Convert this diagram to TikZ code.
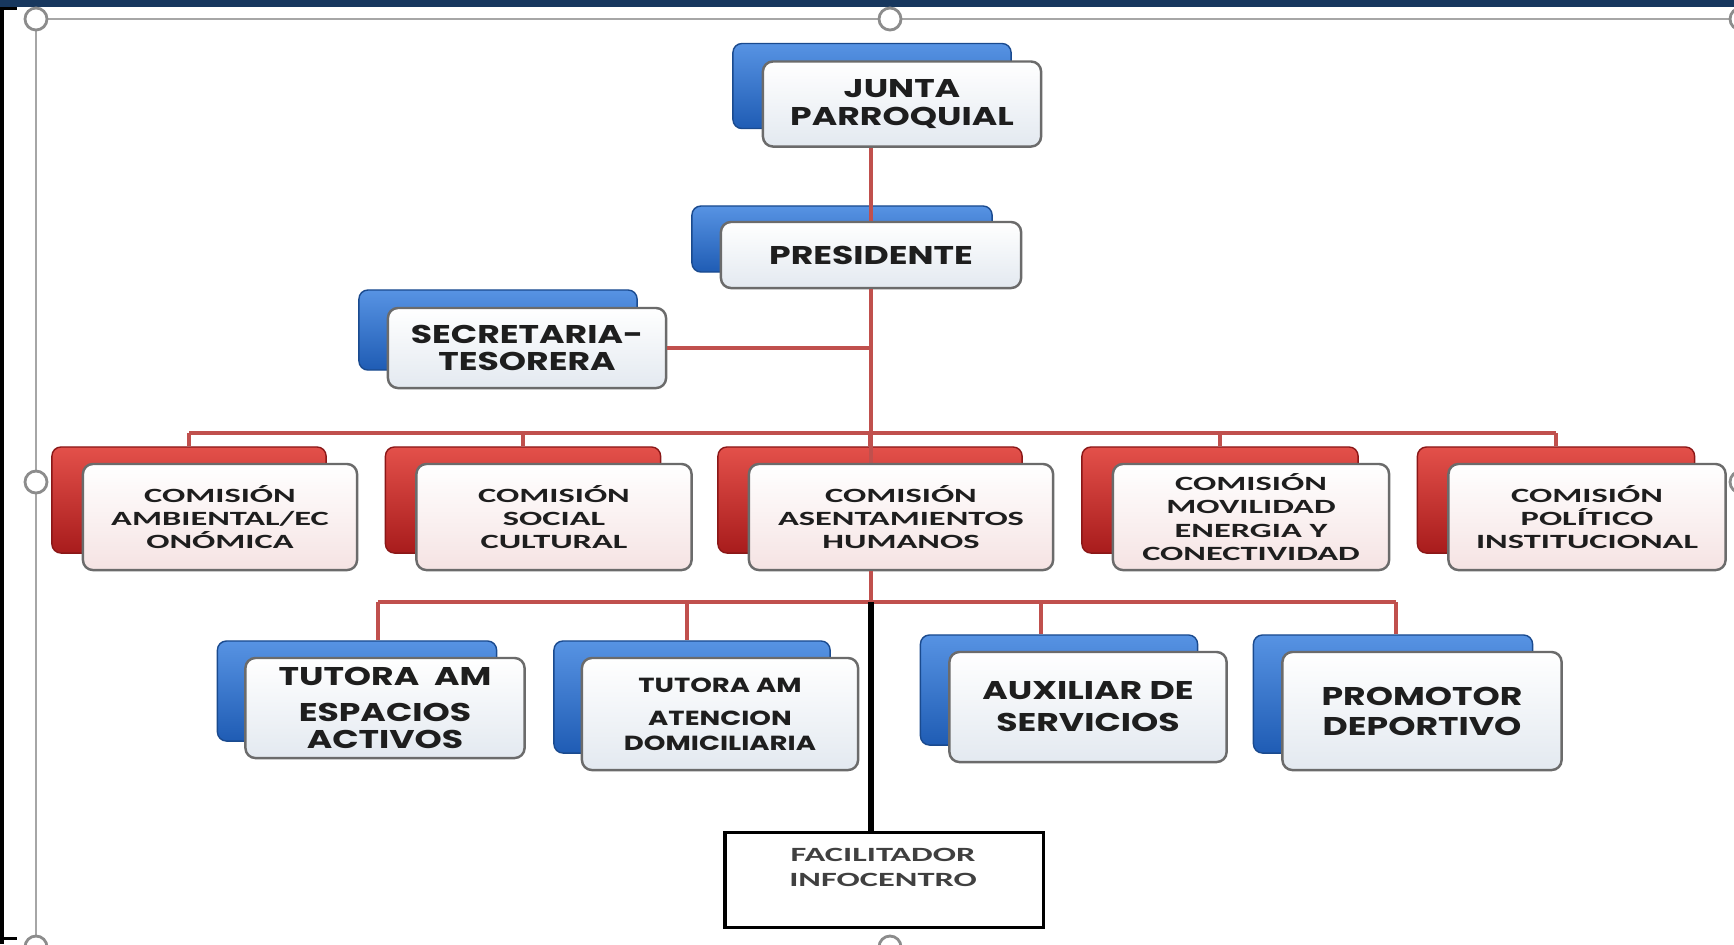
\documentclass[tikz,border=0pt]{standalone}
\usepackage{fontspec}
\usepackage{tikz}

\newfontfamily\geofont{Poppins}[FakeStretch=1.35]
\newfontfamily\calfont{Carlito}[FakeStretch=1.7]

\definecolor{barnavy}{HTML}{17375E}
\definecolor{framegray}{HTML}{A6A6A6}
\definecolor{handlegray}{HTML}{8C8C8C}
\definecolor{bluetop}{HTML}{5793E3}
\definecolor{bluebot}{HTML}{1F5CB4}
\definecolor{blueedge}{HTML}{1A4A8E}
\definecolor{redtop}{HTML}{E3504A}
\definecolor{redbot}{HTML}{A81C1C}
\definecolor{rededge}{HTML}{8A1717}
\definecolor{frontblue}{HTML}{E3E9F0}
\definecolor{frontred}{HTML}{F5E3E3}
\definecolor{boxborder}{HTML}{6B6B6B}
\definecolor{linered}{HTML}{C0504D}
\definecolor{textdark}{HTML}{1E1E1E}
\definecolor{textgray}{HTML}{404040}

\begin{document}
\begin{tikzpicture}[x=0.01cm,y=-0.01cm,
  handle/.style={circle,draw=handlegray,line width=0.8pt,fill=white,minimum size=0.22cm,inner sep=0pt},
  backblue/.style={rounded corners=0.09cm,top color=bluetop,bottom color=bluebot,draw=blueedge,line width=0.4pt,inner sep=0pt},
  backred/.style={rounded corners=0.09cm,top color=redtop,bottom color=redbot,draw=rededge,line width=0.4pt,inner sep=0pt},
  frontbox/.style={rounded corners=0.1cm,draw=boxborder,line width=0.7pt,inner sep=0pt,align=center,text=textdark},
  frontb/.style={frontbox,top color=white,bottom color=frontblue},
  frontr/.style={frontbox,top color=white,bottom color=frontred},
  geo/.style={font=\geofont\bfseries\fontsize{7.3}{7.7}\selectfont},
  geosmall/.style={font=\geofont\bfseries\fontsize{5.8}{7.1}\selectfont},
  cal/.style={font=\calfont\bfseries\fontsize{5.75}{6.6}\selectfont},
  redline/.style={draw=linered,line width=1.2pt},
  blackline/.style={draw=black,line width=1.6pt}]

\useasboundingbox (0,0) rectangle (1734,944);
\clip (0,0) rectangle (1734,944);

%% window frame
\fill[barnavy] (0,0) rectangle (1734,7);
\fill[black] (0,7) rectangle (4,944);
\fill[black] (0,7) rectangle (17,10);
\fill[black] (0,937) rectangle (17,940);

\draw[framegray,line width=0.7pt] (36,19) rectangle (1741,947);

%% connectors
\coordinate (bus1) at (871,433);
\coordinate (bus2) at (871,602);

\coordinate (dl1) at (378,602);
\coordinate (dl2) at (687,602);
\coordinate (dl3) at (1041,602);
\coordinate (dl4) at (1396,602);

%% level 1
\node[backblue,minimum width=2.78cm,minimum height=0.85cm] (juntab) at (872,86) {};
\node[frontb,geo,minimum width=2.78cm,minimum height=0.85cm] (junta) at (902,104) {JUNTA\\PARROQUIAL};

%% level 2
\node[backblue,minimum width=3.0cm,minimum height=0.66cm] (presb) at (842,239) {};

%% level 3
\node[backblue,minimum width=2.78cm,minimum height=0.8cm] (secb) at (498,330) {};

%% comisiones
\node[backred,minimum width=2.74cm,minimum height=1.06cm] (c1b) at (189,500) {};
\node[backred,minimum width=2.75cm,minimum height=1.06cm] (c2b) at (523,500) {};
\node[backred,minimum width=3.04cm,minimum height=1.06cm] (c3b) at (870,500) {};
\node[backred,minimum width=2.76cm,minimum height=1.06cm] (c4b) at (1220,500) {};
\node[backred,minimum width=2.77cm,minimum height=1.06cm] (c5b) at (1556,500) {};

%% lower level
\node[backblue,minimum width=2.79cm,minimum height=1.0cm] (l1b) at (357,691) {};
\node[backblue,minimum width=2.76cm,minimum height=1.12cm] (l2b) at (692,697) {};
\node[backblue,minimum width=2.77cm,minimum height=1.1cm] (l3b) at (1059,690) {};
\node[backblue,minimum width=2.79cm,minimum height=1.18cm] (l4b) at (1393,694) {};

\node[frontb,geo,minimum width=3.0cm,minimum height=0.66cm] (pres) at (871,255) {PRESIDENTE};

\draw[redline] (pres.north |- junta.south) -- (pres.north);
\draw[redline] (pres.south) -- (bus2);
\draw[redline] (c3b.north |- bus1) -- (c3b.north);

\node[frontb,geo,minimum width=2.78cm,minimum height=0.8cm] (sec) at (527,348) {SECRETARIA-\\TESORERA};
\draw[redline] (sec.east) -- (sec.east -| pres.south);

%%
\draw[redline] (c1b.north |- bus1) -- (c5b.north |- bus1);
\draw[redline] (c1b.north |- bus1) -- (c1b.north);
\draw[redline] (c2b.north |- bus1) -- (c2b.north);
\draw[redline] (c4b.north |- bus1) -- (c4b.north);
\draw[redline] (c5b.north |- bus1) -- (c5b.north);

\draw[redline] (dl1) -- (dl4);
\draw[redline] (dl1) -- (dl1 |- l1b.north);
\draw[redline] (dl2) -- (dl2 |- l2b.north);
\draw[redline] (dl3) -- (dl3 |- l3b.north);
\draw[redline] (dl4) -- (dl4 |- l4b.north);

\draw[blackline] (bus2) -- (bus2 |- 0,832);

%% front boxes
\node[frontr,cal,minimum width=2.74cm,minimum height=1.06cm] (c1) at (220,517) {COMISIÓN\\AMBIENTAL/EC\\ONÓMICA};
\node[frontr,cal,minimum width=2.75cm,minimum height=1.06cm] (c2) at (554,517) {COMISIÓN\\SOCIAL\\CULTURAL};
\node[frontr,cal,minimum width=3.04cm,minimum height=1.06cm] (c3) at (901,517) {COMISIÓN\\ASENTAMIENTOS\\HUMANOS};
\node[frontr,cal,minimum width=2.76cm,minimum height=1.06cm] (c4) at (1251,517) {COMISIÓN\\MOVILIDAD\\ENERGIA Y\\CONECTIVIDAD};
\node[frontr,cal,minimum width=2.77cm,minimum height=1.06cm] (c5) at (1587,517) {COMISIÓN\\POLÍTICO\\INSTITUCIONAL};

\draw[redline] (c3.south -| bus2) -- (bus2);

\node[frontb,geo,minimum width=2.79cm,minimum height=1.0cm] (l1) at (385,708) {TUTORA\ \ AM\\[2.6pt]ESPACIOS\\ACTIVOS};
\node[frontb,geosmall,minimum width=2.76cm,minimum height=1.12cm] (l2) at (720,714) {TUTORA AM\\[2.3pt]ATENCION\\DOMICILIARIA};
\node[frontb,geo,minimum width=2.77cm,minimum height=1.1cm] (l3) at (1088,707) {AUXILIAR DE\\[1.4pt]SERVICIOS};
\node[frontb,geo,minimum width=2.79cm,minimum height=1.18cm] (l4) at (1422,711) {PROMOTOR\\[0.8pt]DEPORTIVO};

%% infocentro
\node[draw=black,line width=0.9pt,fill=white,minimum width=3.18cm,minimum height=0.95cm,inner sep=0pt] (facil) at (884,880) {};
\node[text=textgray,align=center,font=\calfont\bfseries\fontsize{5.75}{7.1}\selectfont] (faciltext) at (883,867) {FACILITADOR\\INFOCENTRO};

%% handles
\node[handle] (hnw) at (36,19) {};
\node[handle] (hn) at (890,19) {};
\node[handle] (hne) at (1741,19) {};
\node[handle] (hw) at (36,482) {};
\node[handle] (he) at (1741,482) {};
\node[handle] (hsw) at (36,947) {};
\node[handle] (hs) at (890,947) {};

\end{tikzpicture}
\end{document}
